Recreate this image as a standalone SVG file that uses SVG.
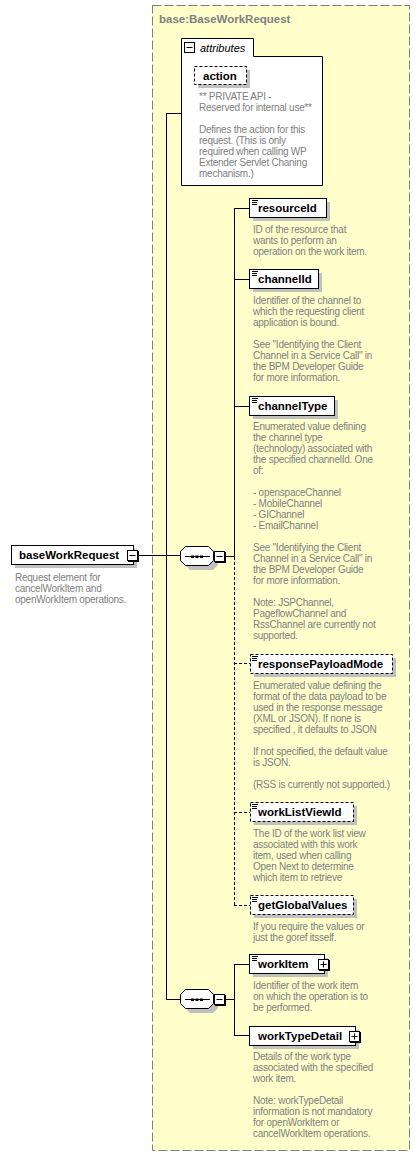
<svg xmlns="http://www.w3.org/2000/svg" width="420" height="1156" viewBox="0 0 420 1156">
<style>
.lbl{font-family:"Liberation Sans",Arial,sans-serif;font-weight:bold;font-size:11.5px;fill:#000}
.ttl{font-family:"Liberation Sans",Arial,sans-serif;font-weight:bold;font-size:11.5px;fill:#808080}
.dsc{font-family:"Liberation Sans",Arial,sans-serif;font-size:10px;letter-spacing:-0.25px;fill:#808080}
.box{fill:#fff;stroke:#000;stroke-width:1}
.opt{fill:#fff;stroke:#000;stroke-width:1;stroke-dasharray:3,2}
.shd{fill:#c0c0c0}
.ln{stroke:#000;stroke-width:1;fill:none}
.dl{stroke:#000;stroke-width:1;fill:none;stroke-dasharray:3,2}
.ic{stroke:#000;stroke-width:1}
</style>
<defs>
<g id="icon"><line class="ic" x1="0" y1="0.5" x2="6" y2="0.5"/><line class="ic" x1="0" y1="2.5" x2="5" y2="2.5"/><line class="ic" x1="0" y1="4.5" x2="5" y2="4.5"/></g>
<g id="minus"><rect x="1" y="1" width="11" height="11" fill="#000"/><rect class="box" x="0.5" y="0.5" width="10" height="10"/><line class="ic" x1="2.5" y1="5.5" x2="8.5" y2="5.5"/></g>
<g id="plus"><rect x="1" y="1" width="11" height="11" fill="#000"/><rect class="box" x="0.5" y="0.5" width="10" height="10"/><line class="ic" x1="2.5" y1="5.5" x2="8.5" y2="5.5"/><line class="ic" x1="5.5" y1="2.5" x2="5.5" y2="8.5"/></g>
<g id="seq"><polygon class="shd" points="10,4 33,4 38,9 38,19 33,24 10,24 5,19 5,9"/><polygon class="box" points="5.5,0.5 28.5,0.5 33.5,5.5 33.5,14.5 28.5,19.5 5.5,19.5 0.5,14.5 0.5,5.5"/><line class="ic" x1="5" y1="10.5" x2="30" y2="10.5"/><rect x="11" y="9.5" width="3" height="2.5" fill="#000"/><rect x="15.5" y="9.5" width="3" height="2.5" fill="#000"/><rect x="20" y="9.5" width="3" height="2.5" fill="#000"/></g>
</defs>

<g id="complexType">
<rect x="152.5" y="5.5" width="257" height="1145" fill="#ffffcc" stroke="#808080" stroke-width="1" stroke-dasharray="9,3"/>
<text class="ttl" x="159" y="23">base:BaseWorkRequest</text>
</g>

<g id="connectors">
<line class="ln" x1="138" y1="555.5" x2="180" y2="555.5"/>
<line class="ln" x1="166.5" y1="113" x2="166.5" y2="999.5"/>
<line class="ln" x1="166" y1="113.5" x2="181" y2="113.5"/>
<line class="ln" x1="166" y1="999.5" x2="180" y2="999.5"/>
<line class="ln" x1="225" y1="556.5" x2="235" y2="556.5"/>
<line class="ln" x1="234.5" y1="208" x2="234.5" y2="557"/>
<line class="dl" x1="234.5" y1="557" x2="234.5" y2="905"/>
<line class="ln" x1="234" y1="208.5" x2="249" y2="208.5"/>
<line class="ln" x1="234" y1="279.5" x2="249" y2="279.5"/>
<line class="ln" x1="234" y1="406.5" x2="249" y2="406.5"/>
<line class="dl" x1="234" y1="663.5" x2="250" y2="663.5"/>
<line class="dl" x1="234" y1="812.5" x2="250" y2="812.5"/>
<line class="dl" x1="234" y1="905.5" x2="250" y2="905.5"/>
<line class="ln" x1="225" y1="999.5" x2="235" y2="999.5"/>
<line class="ln" x1="234.5" y1="964" x2="234.5" y2="1036"/>
<line class="ln" x1="234" y1="964.5" x2="249" y2="964.5"/>
<line class="ln" x1="234" y1="1035.5" x2="249" y2="1035.5"/>
</g>

<g id="baseWorkRequest">
<rect class="shd" x="15" y="549" width="122" height="19"/>
<rect class="box" x="11.5" y="545.5" width="122" height="19"/>
<text class="lbl" x="19" y="559">baseWorkRequest</text>
<use href="#minus" x="127" y="550"/>
<text class="dsc" x="15" y="581">Request element for</text>
<text class="dsc" x="15" y="592">cancelWorkItem and</text>
<text class="dsc" x="15" y="603">openWorkItem operations.</text>
</g>

<g id="attributes">
<path class="box" d="M181.5,185.5 V38.5 H253.5 V56.5 H322.5 V185.5 Z"/>
<rect class="box" x="184.5" y="42.5" width="10" height="10"/>
<line class="ic" x1="186.5" y1="47.5" x2="192.5" y2="47.5"/>
<text x="200" y="52" style="font-family:'Liberation Sans',Arial,sans-serif;font-style:italic;font-size:11px;fill:#000">attributes</text>
</g>

<g id="action">
<rect class="shd" x="198" y="70" width="52" height="18"/>
<rect class="opt" x="194.5" y="66.5" width="52" height="18"/>
<text class="lbl" x="203" y="80">action</text>
<text class="dsc" x="199" y="100">** PRIVATE API -</text>
<text class="dsc" x="199" y="111">Reserved for internal use**</text>
<text class="dsc" x="199" y="133">Defines the action for this</text>
<text class="dsc" x="199" y="144">request. (This is only</text>
<text class="dsc" x="199" y="155">required when calling WP</text>
<text class="dsc" x="199" y="166">Extender Servlet Chaning</text>
<text class="dsc" x="199" y="177">mechanism.)</text>
</g>

<g id="sequence1">
<use href="#seq" x="180" y="546"/>
<use href="#minus" x="214" y="551"/>
</g>

<g id="resourceId">
<rect class="shd" x="253" y="202" width="77" height="19"/>
<rect class="box" x="249.5" y="198.5" width="77" height="19"/>
<use href="#icon" x="252" y="200"/>
<text class="lbl" x="258" y="212">resourceId</text>
<text class="dsc" x="253" y="233">ID of the resource that</text>
<text class="dsc" x="253" y="244">wants to perform an</text>
<text class="dsc" x="253" y="255">operation on the work item.</text>
</g>

<g id="channelId">
<rect class="shd" x="253" y="273" width="69" height="19"/>
<rect class="box" x="249.5" y="269.5" width="69" height="19"/>
<use href="#icon" x="252" y="271"/>
<text class="lbl" x="258" y="283">channelId</text>
<text class="dsc" x="253" y="304">Identifier of the channel to</text>
<text class="dsc" x="253" y="315">which the requesting client</text>
<text class="dsc" x="253" y="326">application is bound.</text>
<text class="dsc" x="253" y="348">See "Identifying the Client</text>
<text class="dsc" x="253" y="359">Channel in a Service Call" in</text>
<text class="dsc" x="253" y="370">the BPM Developer Guide</text>
<text class="dsc" x="253" y="381">for more information.</text>
</g>

<g id="channelType">
<rect class="shd" x="253" y="400" width="85" height="19"/>
<rect class="box" x="249.5" y="396.5" width="85" height="19"/>
<use href="#icon" x="252" y="398"/>
<text class="lbl" x="258" y="410">channelType</text>
<text class="dsc" x="253" y="430">Enumerated value defining</text>
<text class="dsc" x="253" y="441">the channel type</text>
<text class="dsc" x="253" y="452">(technology) associated with</text>
<text class="dsc" x="253" y="463">the specified channelId. One</text>
<text class="dsc" x="253" y="474">of:</text>
<text class="dsc" x="253" y="496">- openspaceChannel</text>
<text class="dsc" x="253" y="507">- MobileChannel</text>
<text class="dsc" x="253" y="518">- GIChannel</text>
<text class="dsc" x="253" y="529">- EmailChannel</text>
<text class="dsc" x="253" y="551">See "Identifying the Client</text>
<text class="dsc" x="253" y="562">Channel in a Service Call" in</text>
<text class="dsc" x="253" y="573">the BPM Developer Guide</text>
<text class="dsc" x="253" y="584">for more information.</text>
<text class="dsc" x="253" y="606">Note: JSPChannel,</text>
<text class="dsc" x="253" y="617">PageflowChannel and</text>
<text class="dsc" x="253" y="628">RssChannel are currently not</text>
<text class="dsc" x="253" y="639">supported.</text>
</g>

<g id="responsePayloadMode">
<rect class="shd" x="254" y="658" width="142" height="19"/>
<rect class="opt" x="250.5" y="654.5" width="142" height="19"/>
<use href="#icon" x="252" y="656"/>
<text class="lbl" x="258" y="668">responsePayloadMode</text>
<text class="dsc" x="253" y="689">Enumerated value defining the</text>
<text class="dsc" x="253" y="700">format of the data payload to be</text>
<text class="dsc" x="253" y="711">used in the response message</text>
<text class="dsc" x="253" y="722">(XML or JSON). If none is</text>
<text class="dsc" x="253" y="733">specified , it defaults to JSON</text>
<text class="dsc" x="253" y="755">If not specified, the default value</text>
<text class="dsc" x="253" y="766">is JSON.</text>
<text class="dsc" x="253" y="788">(RSS is currently not supported.)</text>
</g>

<g id="workListViewId">
<rect class="shd" x="254" y="806" width="103" height="19"/>
<rect class="opt" x="250.5" y="802.5" width="103" height="19"/>
<use href="#icon" x="252" y="804"/>
<text class="lbl" x="258" y="816">workListViewId</text>
<text class="dsc" x="253" y="837">The ID of the work list view</text>
<text class="dsc" x="253" y="848">associated with this work</text>
<text class="dsc" x="253" y="859">item, used when calling</text>
<text class="dsc" x="253" y="870">Open Next to determine</text>
<text class="dsc" x="253" y="881">which item to retrieve</text>
</g>

<g id="getGlobalValues">
<rect class="shd" x="254" y="899" width="103" height="19"/>
<rect class="opt" x="250.5" y="895.5" width="103" height="19"/>
<use href="#icon" x="252" y="897"/>
<text class="lbl" x="258" y="909">getGlobalValues</text>
<text class="dsc" x="253" y="930">If you require the values or</text>
<text class="dsc" x="253" y="941">just the goref itsself.</text>
</g>

<g id="sequence2">
<use href="#seq" x="180" y="989"/>
<use href="#minus" x="214" y="994"/>
</g>

<g id="workItem">
<rect class="shd" x="253" y="958" width="75" height="19"/>
<rect class="box" x="249.5" y="954.5" width="75" height="19"/>
<use href="#icon" x="252" y="956"/>
<text class="lbl" x="258" y="968">workItem</text>
<use href="#plus" x="318" y="959"/>
<text class="dsc" x="253" y="989">Identifier of the work item</text>
<text class="dsc" x="253" y="1000">on which the operation is to</text>
<text class="dsc" x="253" y="1011">be performed.</text>
</g>

<g id="workTypeDetail">
<rect class="shd" x="253" y="1030" width="106" height="19"/>
<rect class="box" x="249.5" y="1026.5" width="106" height="19"/>
<text class="lbl" x="258" y="1040">workTypeDetail</text>
<use href="#plus" x="349" y="1031"/>
<text class="dsc" x="253" y="1060">Details of the work type</text>
<text class="dsc" x="253" y="1071">associated with the specified</text>
<text class="dsc" x="253" y="1082">work item.</text>
<text class="dsc" x="253" y="1104">Note: workTypeDetail</text>
<text class="dsc" x="253" y="1115">information is not mandatory</text>
<text class="dsc" x="253" y="1126">for openWorkItem or</text>
<text class="dsc" x="253" y="1137">cancelWorkItem operations.</text>
</g>
</svg>
